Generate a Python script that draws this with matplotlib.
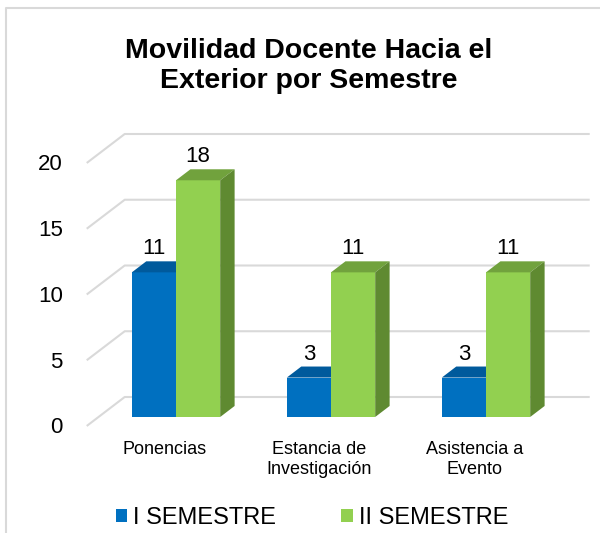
import numpy as np
import matplotlib
matplotlib.use("Agg")
import matplotlib.pyplot as plt
from matplotlib.patches import Polygon, Patch
from matplotlib.lines import Line2D

# data
categories = ["Ponencias", "Estancia de\nInvestigación", "Asistencia a\nEvento"]
series_names = ["I SEMESTRE", "II SEMESTRE"]
sem1 = [11, 3, 3]
sem2 = [18, 11, 11]
yticks = [0, 5, 10, 15, 20]

# styling
front_colors = ["#0070C0", "#92D050"]
top_colors = ["#005A9C", "#71A23D"]
side_colors = ["#00508A", "#5F8A31"]
grid_color = "#D9D9D9"
plt.rcParams['font.family'] = ['Liberation Sans', 'DejaVu Sans']

W, H = 600, 533
fig = plt.figure(figsize=(W / 100, H / 100), dpi=100)

# pixel layout of the oblique projection (front plane of the bars)
x0_px, px_per_cat = 176, 155
y0_px, px_per_val = 417, 13.15
ax = fig.add_axes([0, 0, 1, 1])
ax.set_xlim(-x0_px / px_per_cat, (W - x0_px) / px_per_cat)
ax.set_ylim((y0_px - H) / px_per_val, y0_px / px_per_val)
ax.axis("off")

# depth vector (data units) for a full floor depth
dep = np.array([38 / px_per_cat, 29 / px_per_val])
f_front, f_back, f_bar = -0.31, 0.69, 0.38
bar_w = 0.285
x = np.arange(len(categories))

# gridlines: side wall diagonal + back wall horizontal
left_edge, right_edge = -0.5, 2.5
for v in yticks:
    p_front = np.array([left_edge, v]) + f_front * dep
    p_back = np.array([left_edge, v]) + f_back * dep
    p_right = np.array([right_edge, v]) + f_back * dep
    ax.plot([p_front[0], p_back[0], p_right[0]], [p_front[1], p_back[1], p_right[1]],
            color=grid_color, lw=1.5, zorder=1, solid_capstyle="butt")
    ax.annotate(str(v), xy=p_front, xytext=(-24, -2), textcoords="offset pixels",
                ha="right", va="center", fontsize=16)

# 3d bars
for s, vals in enumerate([sem1, sem2]):
    for i, v in enumerate(vals):
        xl = x[i] - bar_w + s * bar_w
        xr = xl + bar_w
        dx, dy = f_bar * dep
        ax.bar(xl, v, width=bar_w, align="edge", color=front_colors[s],
               linewidth=0, zorder=3 + s)
        ax.add_patch(Polygon([(xl, v), (xr, v), (xr + dx, v + dy), (xl + dx, v + dy)],
                             closed=True, color=top_colors[s], lw=0, zorder=3 + s))
        ax.add_patch(Polygon([(xr, 0), (xr + dx, dy), (xr + dx, v + dy), (xr, v)],
                             closed=True, color=side_colors[s], lw=0, zorder=3 + s))
        ax.annotate(str(v), xy=((xl + xr) / 2, v), xytext=(0, 18),
                    textcoords="offset pixels", ha="center", va="baseline",
                    fontsize=16, zorder=10)

# category labels at the floor front edge
for i, cat in enumerate(categories):
    p = np.array([x[i], 0]) + f_front * dep
    ax.annotate(cat, xy=p, xytext=(0, -15), textcoords="offset pixels",
                ha="center", va="top", fontsize=13, linespacing=1.2)

# title
fig.text(309 / W, 1 - 38 / H, "Movilidad Docente Hacia el\nExterior por Semestre",
         ha="center", va="top", fontsize=20.5, fontweight="bold", linespacing=1.2)

# legend
handles = [Patch(facecolor=c, edgecolor="none") for c in front_colors]
fig.legend(handles, series_names, loc="center", bbox_to_anchor=(312 / W, 1 - 518 / H),
           ncol=2, frameon=False, fontsize=17, handlelength=0.5, handleheight=0.5,
           handletextpad=0.25, columnspacing=2.75, borderpad=0)

# chart border (left and top edges visible)
fig.add_artist(Line2D([6 / W, 6 / W, 1], [0, 1 - 8 / H, 1 - 8 / H],
                      color=grid_color, lw=1.5, transform=fig.transFigure))

fig.savefig("out.png", dpi=100)
